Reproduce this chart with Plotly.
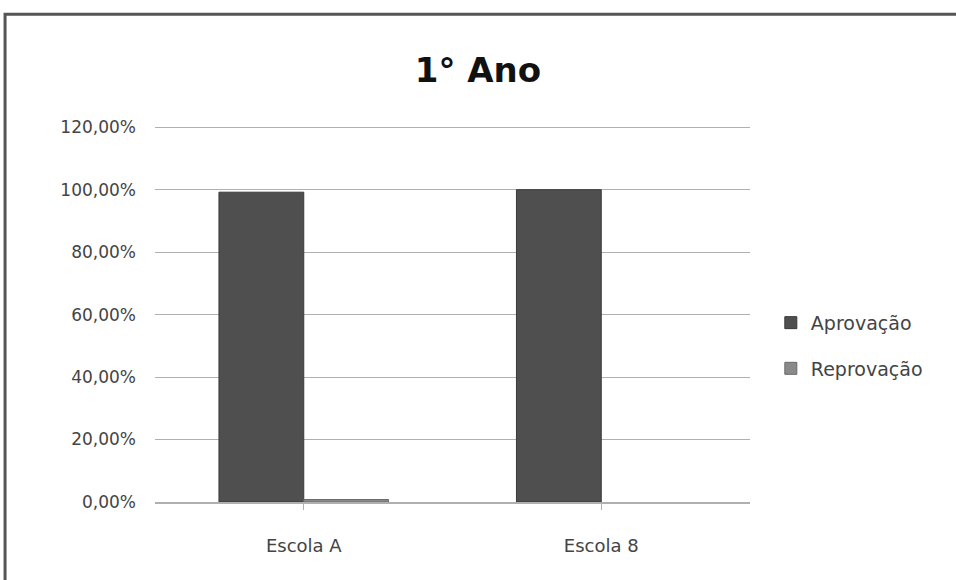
import plotly.graph_objects as go

categories = ["Escola A", "Escola 8"]
aprovacao = [0.992, 1.0]
reprovacao = [0.008, 0.0]
series_names = ["Aprovação", "Reprovação"]
tick_vals = [0, 0.2, 0.4, 0.6, 0.8, 1.0, 1.2]

fig = go.Figure()
fig.add_trace(go.Bar(x=categories, y=aprovacao, name=series_names[0], legendgroup="a",
                     marker=dict(color="#4f4f4f", line=dict(color="#3a3a3a", width=1))))
fig.add_trace(go.Bar(x=categories, y=reprovacao, name=series_names[1], legendgroup="r",
                     marker=dict(color="#8a8a8a",
                                 line=dict(color="#6a6a6a",
                                           width=[1 if v > 0 else 0 for v in reprovacao]))))

fig.update_layout(
    width=956, height=580,
    margin=dict(l=155, r=206, t=121, b=78),
    paper_bgcolor="white", plot_bgcolor="white",
    separators=",.",
    barmode="group", bargap=0.43, bargroupgap=0,
    font=dict(family="DejaVu Sans", color="#444"),
    title=dict(text="<b>1° Ano</b>", x=0.5, xanchor="center", y=0.88, yanchor="middle",
               font=dict(size=34, color="#111", family="DejaVu Sans")),
    legend=dict(x=1.035, y=0.41, xanchor="left", yanchor="middle",
                font=dict(size=19, color="#444"), tracegroupgap=18, itemwidth=30),
    showlegend=True,
)
fig.update_yaxes(range=[0, 1.22], tickvals=tick_vals, tickformat=".2%",
                 gridcolor="#b0b0b0", gridwidth=1, showline=False, zeroline=False,
                 tickfont=dict(size=17, color="#444"), ticks="", ticklen=0,
                 ticklabelstandoff=18)
fig.update_xaxes(showline=True, linecolor="#b0b0b0", linewidth=2, ticks="outside",
                 tickcolor="#b0b0b0", ticklen=6, tickfont=dict(size=18, color="#444"),
                 ticklabelstandoff=20)

fig.add_shape(type="rect", xref="paper", yref="paper", x0=-0.252, x1=1.5, y0=-0.3, y1=1.28,
              line=dict(color="#555", width=3), fillcolor="rgba(0,0,0,0)", layer="below")

fig.write_html("out.html")
